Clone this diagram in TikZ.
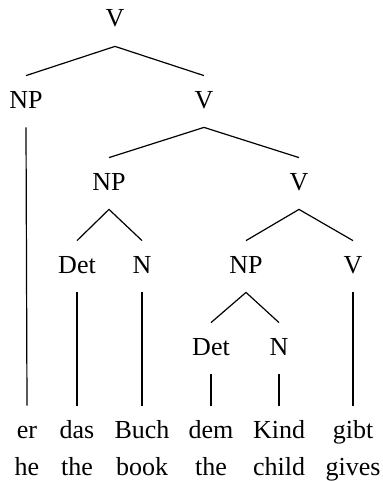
\documentclass[tikz,border=0pt]{standalone}
\usepackage{fontspec}
\setmainfont{Liberation Serif}
\begin{document}
\begin{tikzpicture}[x=0.5pt,y=-0.5pt,
  cat/.style={anchor=base,inner sep=0pt,text height=16pt,text depth=9.5pt,font=\fontsize{13}{15}\selectfont},
  gl/.style={anchor=base,inner sep=0pt,font=\fontsize{13}{15}\selectfont},
  edge/.style={line width=0.6pt}]
\useasboundingbox (0,0) rectangle (382,481);
\node[cat] (v0) at (115,27) {V};
\node[cat] (np1) at (26,108) {NP};
\node[cat] (v1) at (204,108) {V};
\node[cat] (np2) at (109,190) {NP};
\node[cat] (v2) at (299,190) {V};
\node[cat] (det1) at (77,273) {Det};
\node[cat] (n1) at (142,273) {N};
\node[cat] (np3) at (246,273) {NP};
\node[cat] (v3) at (353,273) {V};
\node[cat] (det2) at (211,355) {Det};
\node[cat] (n2) at (279,355) {N};
\node[cat] (w1) at (27,438) {er};
\node[cat] (w2) at (77,438) {das};
\node[cat] (w3) at (142,438) {Buch};
\node[cat] (w4) at (211,438) {dem};
\node[cat] (w5) at (279,438) {Kind};
\node[cat] (w6) at (353,438) {gibt};
\node[gl] (g1) at (27,475) {he};
\node[gl] (g2) at (77,475) {the};
\node[gl] (g3) at (142,475) {book};
\node[gl] (g4) at (211,475) {the};
\node[gl] (g5) at (279,475) {child};
\node[gl] (g6) at (353,475) {gives};
\draw[edge] (np1.north) -- (v0.south) -- (v1.north);
\draw[edge] (np2.north) -- (v1.south) -- (v2.north);
\draw[edge] (det1.north) -- (np2.south) -- (n1.north);
\draw[edge] (np3.north) -- (v2.south) -- (v3.north);
\draw[edge] (det2.north) -- (np3.south) -- (n2.north);
\draw[edge] (np1.south) -- (w1.north);
\draw[edge] (det1.south) -- (w2.north);
\draw[edge] (n1.south) -- (w3.north);
\draw[edge] (det2.south) -- (w4.north);
\draw[edge] (n2.south) -- (w5.north);
\draw[edge] (v3.south) -- (w6.north);
\end{tikzpicture}
\end{document}
